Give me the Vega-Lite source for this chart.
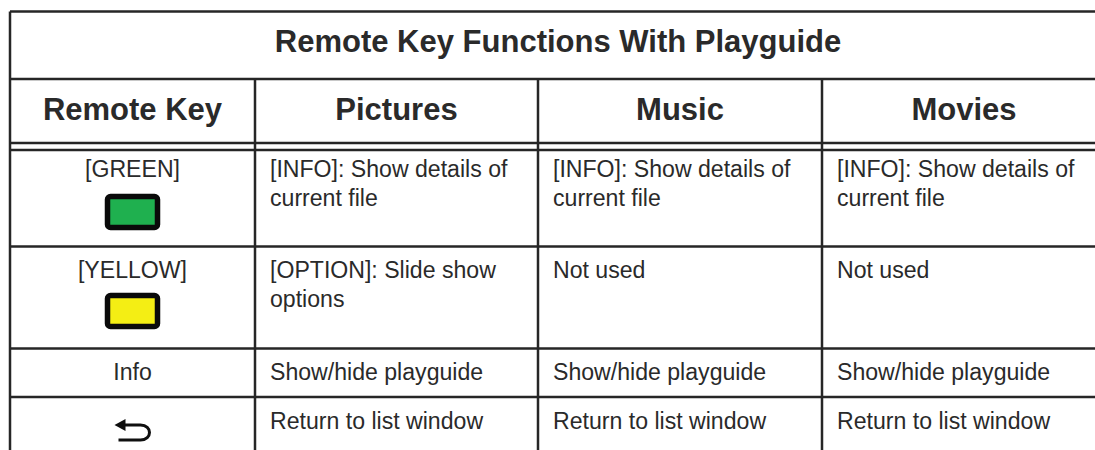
{
"$schema":"https://vega.github.io/schema/vega-lite/v6.json",
"width":1095,"height":450,"padding":0,"autosize":{"type":"none"},"background":"white",
"config":{"view":{"stroke":null},"text":{"font":"Liberation Sans","color":"#2a2a2a"}},
"datasets":{
"grid":[
{"edge":"h","row":0,"rowEnd":0,"col":0,"colEnd":4},
{"edge":"h","row":1,"rowEnd":1,"col":0,"colEnd":4},
{"edge":"h","row":2,"rowEnd":2,"col":0,"colEnd":4},
{"edge":"h","row":3,"rowEnd":3,"col":0,"colEnd":4},
{"edge":"h","row":4,"rowEnd":4,"col":0,"colEnd":4},
{"edge":"h","row":5,"rowEnd":5,"col":0,"colEnd":4},
{"edge":"h","row":6,"rowEnd":6,"col":0,"colEnd":4},
{"edge":"v","row":0,"rowEnd":7,"col":0,"colEnd":0},
{"edge":"v","row":1,"rowEnd":7,"col":1,"colEnd":1},
{"edge":"v","row":1,"rowEnd":7,"col":2,"colEnd":2},
{"edge":"v","row":1,"rowEnd":7,"col":3,"colEnd":3}
],
"head":[
{"col":0.5,"line":1,"text":"Remote Key"},
{"col":1.5,"line":1,"text":"Pictures"},
{"col":2.5,"line":1,"text":"Music"},
{"col":3.5,"line":1,"text":"Movies"}
],
"keys":[
{"col":0.5,"line":2,"text":"[GREEN]"},
{"col":0.5,"line":4,"text":"[YELLOW]"},
{"col":0.5,"line":6,"text":"Info"}
],
"body":[
{"col":1,"line":2,"text":"[INFO]: Show details of"},
{"col":1,"line":3,"text":"current file"},
{"col":2,"line":2,"text":"[INFO]: Show details of"},
{"col":2,"line":3,"text":"current file"},
{"col":3,"line":2,"text":"[INFO]: Show details of"},
{"col":3,"line":3,"text":"current file"},
{"col":1,"line":4,"text":"[OPTION]: Slide show"},
{"col":1,"line":5,"text":"options"},
{"col":2,"line":4,"text":"Not used"},
{"col":3,"line":4,"text":"Not used"},
{"col":1,"line":6,"text":"Show/hide playguide"},
{"col":2,"line":6,"text":"Show/hide playguide"},
{"col":3,"line":6,"text":"Show/hide playguide"},
{"col":1,"line":7,"text":"Return to list window"},
{"col":2,"line":7,"text":"Return to list window"},
{"col":3,"line":7,"text":"Return to list window"}
],
"buttons":[
{"key":"GREEN","col":0.5,"slot":0},
{"key":"YELLOW","col":0.5,"slot":1}
],
"back":[{"key":"Return","col":0.5,"slot":2}]
},
"resolve":{"scale":{"y":"independent"}},
"layer":[
{"data":{"name":"grid"},
 "mark":{"type":"rule","stroke":"#262626","strokeWidth":2.5,"clip":true},
 "encoding":{
  "x":{"field":"col","type":"quantitative","axis":null,"scale":{"domain":[0,1,2,3,4],"range":[10,255,538,822,1106],"nice":false,"zero":false}},
  "x2":{"field":"colEnd"},
  "y":{"field":"row","type":"quantitative","axis":null,"scale":{"domain":[0,1,2,3,4,5,6,7],"range":[11.5,79,143,150,246.5,348.5,397,460],"nice":false,"zero":false}},
  "y2":{"field":"rowEnd"}}},
{"data":{"values":[{"col":2,"line":0,"text":"Remote Key Functions With Playguide"}]},
 "mark":{"type":"text","font":"Liberation Sans","fontWeight":"bold","fontSize":31,"align":"center","baseline":"middle","dx":20},
 "encoding":{
  "x":{"field":"col","type":"quantitative","axis":null},
  "y":{"field":"line","type":"quantitative","axis":null,"scale":{"domain":[0,1],"range":[43,111],"nice":false,"zero":false}},
  "text":{"field":"text"}}},
{"data":{"name":"head"},
 "mark":{"type":"text","font":"Liberation Sans","fontWeight":"bold","fontSize":31,"align":"center","baseline":"middle"},
 "encoding":{
  "x":{"field":"col","type":"quantitative","axis":null},
  "y":{"field":"line","type":"quantitative","axis":null,"scale":{"domain":[0,1],"range":[43,111],"nice":false,"zero":false}},
  "text":{"field":"text"}}},
{"data":{"name":"keys"},
 "mark":{"type":"text","font":"Liberation Sans","fontSize":23.1,"align":"center","baseline":"middle"},
 "encoding":{
  "x":{"field":"col","type":"quantitative","axis":null},
  "y":{"field":"line","type":"quantitative","axis":null,"scale":{"domain":[2,3,4,5,6,7],"range":[170,199,271,300,373,422],"nice":false,"zero":false}},
  "text":{"field":"text"}}},
{"data":{"name":"body"},
 "mark":{"type":"text","font":"Liberation Sans","fontSize":23.1,"align":"left","baseline":"middle","dx":15},
 "encoding":{
  "x":{"field":"col","type":"quantitative","axis":null},
  "y":{"field":"line","type":"quantitative","axis":null,"scale":{"domain":[2,3,4,5,6,7],"range":[170,199,271,300,373,422],"nice":false,"zero":false}},
  "text":{"field":"text"}}},
{"data":{"name":"buttons"},
 "mark":{"type":"rect","width":50,"height":31,"cornerRadius":3,"stroke":"#0a0a0a","strokeWidth":5.5},
 "encoding":{
  "x":{"field":"col","type":"quantitative","axis":null},
  "y":{"field":"slot","type":"quantitative","axis":null,"scale":{"domain":[0,1],"range":[212,311],"nice":false,"zero":false}},
  "fill":{"field":"key","type":"nominal","legend":null,"scale":{"domain":["GREEN","YELLOW"],"range":["#1fb04f","#f4ee14"]}}}},
{"data":{"name":"back"},
 "mark":{"type":"point","filled":false,"fill":"transparent","stroke":"#0f0f0f","strokeWidth":3,"size":4,"opacity":1,"shape":"M-9,-6 L8,-6 C20,-6 20,9 8,9 L-14,9"},
 "encoding":{
  "x":{"field":"col","type":"quantitative","axis":null},
  "y":{"field":"slot","type":"quantitative","axis":null,"scale":{"domain":[2,3],"range":[431,531],"nice":false,"zero":false}}}},
{"data":{"name":"back"},
 "mark":{"type":"point","filled":true,"fill":"#0f0f0f","stroke":null,"size":4,"opacity":1,"shape":"M-18,-6 L-7,-12 L-7,0 Z"},
 "encoding":{
  "x":{"field":"col","type":"quantitative","axis":null},
  "y":{"field":"slot","type":"quantitative","axis":null,"scale":{"domain":[2,3],"range":[431,531],"nice":false,"zero":false}}}}
]
}
